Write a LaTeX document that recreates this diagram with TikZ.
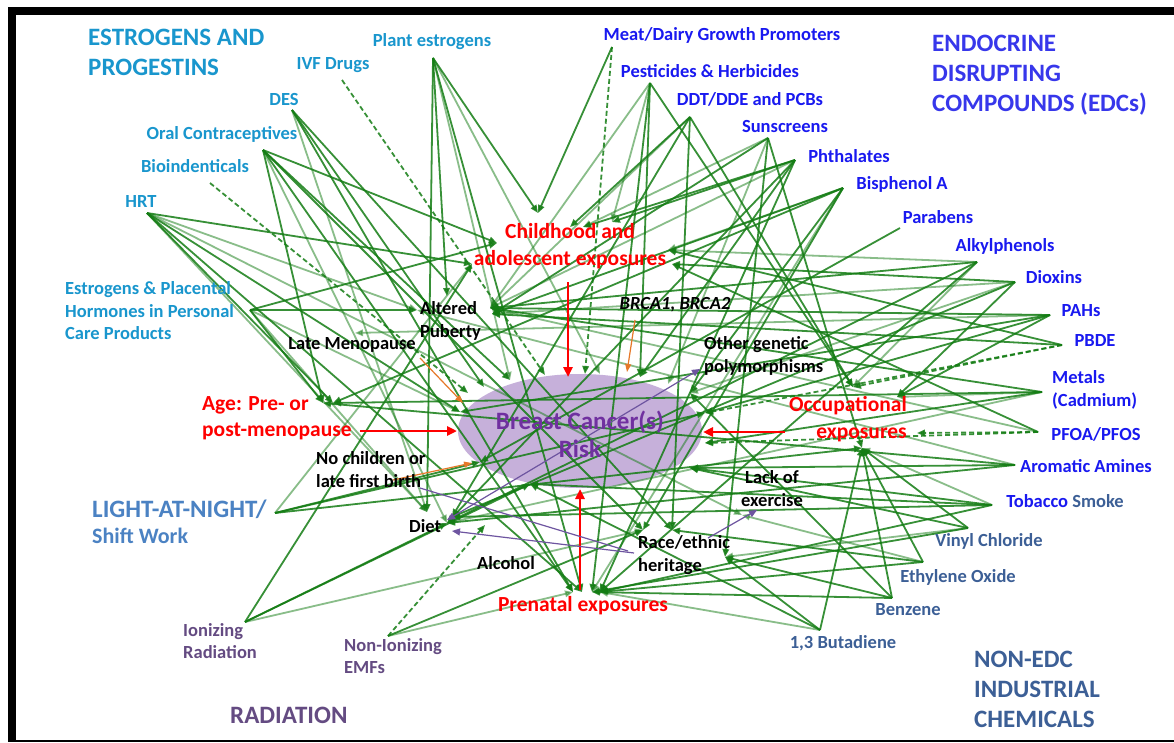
\documentclass[tikz,border=0pt]{standalone}
\usepackage{fontspec}
\setmainfont{Carlito}
\usetikzlibrary{arrows.meta,shapes.geometric}
\definecolor{estro}{RGB}{25,150,205}
\definecolor{edc}{RGB}{25,25,240}
\definecolor{edct}{RGB}{55,55,235}
\definecolor{nonedc}{RGB}{60,95,150}
\definecolor{lanc}{RGB}{75,130,195}
\definecolor{radc}{RGB}{100,75,130}
\definecolor{redc}{RGB}{255,0,0}
\definecolor{bcp}{RGB}{112,48,160}
\definecolor{bcfill}{RGB}{198,176,218}
\definecolor{grn}{RGB}{20,125,20}
\definecolor{purl}{RGB}{110,85,160}
\definecolor{orng}{RGB}{230,120,40}
\tikzset{
  gl/.style={draw=grn, line width=1.8pt, opacity=0.85, -{Triangle[length=8pt,width=6.5pt]}},
  gll/.style={gl, opacity=0.5},
  gd/.style={gl, dash pattern=on 5pt off 3pt},
  redarr/.style={draw=redc, line width=2.6pt, -{Triangle[length=10pt,width=9pt]}},
  orarr/.style={draw=orng, line width=1.2pt, -{Triangle[length=8pt,width=6pt]}},
  purarr/.style={draw=purl, line width=1.2pt, -{Triangle[length=8pt,width=7pt]}},
  lbl/.style={inner sep=0pt, font=\bfseries\fontsize{18.5}{22.5}\selectfont},
  clbl/.style={inner sep=0pt, font=\bfseries\fontsize{18.5}{23}\selectfont, text=black},
  rlbl/.style={inner sep=0pt, font=\bfseries\fontsize{21.5}{26.5}\selectfont, text=redc},
  ttl/.style={inner sep=0pt, font=\bfseries\fontsize{25}{30}\selectfont, anchor=west, align=left},
}
\newcommand\gedge[3][gl]{\draw[#1] (#2) -- (#3);}
\begin{document}
\begin{tikzpicture}[x=1pt,y=-1pt]
\useasboundingbox (0,0) rectangle (1174,743);
\fill[white] (0,0) rectangle (1174,743);
% frame
\fill[black] (8,7) rectangle (1174,15);
\fill[black] (8,7) rectangle (16,742);
\fill[black] (8,739.5) rectangle (1174,742);

% ellipse
\node[ellipse, fill=bcfill, minimum width=244pt, minimum height=114pt, inner sep=0pt] (bc) at (580,431) {};

% source anchors
\coordinate (sPlant) at (433,58);
\coordinate (sIVF) at (342,80);
\coordinate (sDES) at (292,110);
\coordinate (sOC) at (263,150);
\coordinate (sBio) at (210,183);
\coordinate (sHRT) at (147,213);
\coordinate (sEPH) at (250,310);
\coordinate (sMeat) at (612,47);
\coordinate (sPest) at (650,83);
\coordinate (sDDT) at (690,117);
\coordinate (sSun) at (768,138);
\coordinate (sPhth) at (795,160);
\coordinate (sBPA) at (843,188);
\coordinate (sPara) at (900,228);
\coordinate (sAlk) at (977,262);
\coordinate (sDiox) at (1015,282);
\coordinate (sPAH) at (1050,315);
\coordinate (sPBDE) at (1062,345);
\coordinate (sMet) at (1042,392);
\coordinate (sPFOA) at (1038,432);
\coordinate (sArom) at (1015,465);
\coordinate (sTob) at (992,505);
\coordinate (sVin) at (968,528);
\coordinate (sEth) at (923,562);
\coordinate (sBenz) at (892,598);
\coordinate (sBut) at (820,630);
\coordinate (sLAN) at (275,513);
\coordinate (sIon) at (245,622);
\coordinate (sNon) at (388,636);

% target points
\coordinate (tCh1) at (538,213);
\coordinate (tCh2) at (570,227);
\coordinate (tCh3) at (583,227);
\coordinate (tCh4) at (612,222);
\coordinate (tChL) at (497,243);
\coordinate (tChL2) at (472,264);
\coordinate (tChR) at (668,250);
\coordinate (tChR2) at (672,264);
\coordinate (tAPL) at (417,310);
\coordinate (tAPR) at (490,308);
\coordinate (tAPR2) at (492,314);
\coordinate (tAPT) at (447,296);
\coordinate (tLM) at (355,333);
\coordinate (tAge1) at (323,403);
\coordinate (tAge2) at (333,403);
\coordinate (tE0) at (468,393);
\coordinate (tE1) at (484,387);
\coordinate (tE2) at (510,380);
\coordinate (tE3) at (545,375);
\coordinate (tE35) at (585,374);
\coordinate (tE4) at (600,374);
\coordinate (tE5) at (640,377);
\coordinate (tE6) at (668,384);
\coordinate (tE7) at (690,393);
\coordinate (tEL) at (460,412);
\coordinate (tER1) at (705,413);
\coordinate (tER2) at (705,443);
\coordinate (tER3) at (690,468);
\coordinate (tEBL) at (480,462);
\coordinate (tEB) at (530,484);
\coordinate (tDietT) at (427,512);
\coordinate (tDietR) at (447,523);
\coordinate (tDietR2) at (452,517);
\coordinate (tPre1) at (573,592);
\coordinate (tPre2) at (582,592);
\coordinate (tPre3) at (592,592);
\coordinate (tPre4) at (600,592);
\coordinate (tOcc1) at (862,448);
\coordinate (tOcc2) at (897,397);
\coordinate (tOcc3) at (853,387);
\coordinate (tOcc4) at (917,433);
\coordinate (tRace1) at (643,530);
\coordinate (tRace2) at (672,530);
\coordinate (tRace3) at (725,557);
\coordinate (tLack) at (742,515);
\coordinate (tNonD) at (485,525);

% ---------- green connectors ----------
% estrogens & progestins
\gedge{sPlant}{tCh1}
\gedge{sPlant}{tAPT}
\gedge[gll]{sPlant}{tE4}
\gedge{sPlant}{tPre2}
\gedge{sPlant}{tDietT}
\gedge[gll]{sPlant}{tE2}
\gedge[gd]{sIVF}{tE3}
\gedge{sDES}{tPre1}
\gedge{sDES}{tE1}
\gedge[gll]{sDES}{tDietT}
\gedge{sDES}{tRace2}
\gedge{sOC}{tAge1}
\gedge{sOC}{tChL}
\gedge{sOC}{tE2}
\gedge{sOC}{tPre1}
\gedge[gll]{sOC}{tDietR}
\gedge{sOC}{tRace1}
\gedge[gd]{sBio}{tE0}
\gedge{sHRT}{tChL2}
\gedge{sHRT}{tAge2}
\gedge{sHRT}{tEL}
\gedge{sHRT}{tPre2}
\gedge[gll]{sHRT}{tAPL}
\gedge[gll]{sHRT}{tDietT}
\gedge[gll]{sHRT}{tLack}
\gedge{sEPH}{tAPL}
\gedge{sEPH}{tChL}
\gedge{sEPH}{tAge1}
\gedge[gll]{sEPH}{tEL}
\gedge[gll]{sEPH}{tDietT}
% EDCs
\gedge{sMeat}{tCh1}
\gedge[gd]{sMeat}{tE35}
\gedge{sPest}{tPre3}
\gedge{sPest}{tOcc3}
\gedge[gll]{sPest}{tCh4}
\gedge{sPest}{tE5}
\gedge[gll]{sPest}{tAPR}
\gedge{sDDT}{tCh2}
\gedge{sDDT}{tDietR2}
\gedge{sDDT}{tRace2}
\gedge{sDDT}{tOcc3}
\gedge[gll]{sDDT}{tAPR}
\gedge{sSun}{tRace3}
\gedge{sSun}{tOcc1}
\gedge[gll]{sSun}{tE6}
\gedge[gll]{sSun}{tCh3}
\gedge{sSun}{tAPR2}
\gedge{sPhth}{tCh3}
\gedge{sPhth}{tCh4}
\gedge{sPhth}{tE5}
\gedge{sPhth}{tPre4}
\gedge[gll]{sPhth}{tAPR}
\gedge{sPhth}{tDietR}
\gedge{sBPA}{tRace1}
\gedge{sBPA}{tE7}
\gedge{sBPA}{tAPR2}
\gedge[gll]{sBPA}{tChR}
\gedge{sBPA}{tAge2}
\gedge[gll]{sBPA}{tPre3}
\gedge{sPara}{tEBL}
\gedge{sAlk}{tPre4}
\gedge{sAlk}{tDietR}
\gedge[gll]{sAlk}{tChR}
\gedge{sAlk}{tAPR}
\gedge[gll]{sAlk}{tOcc3}
\gedge{sDiox}{tOcc2}
\gedge{sDiox}{tDietR2}
\gedge[gll]{sDiox}{tAPR2}
\gedge{sDiox}{tChR2}
\gedge[gll]{sDiox}{tE7}
\gedge{sPAH}{tAPR}
\gedge{sPAH}{tER1}
\gedge{sPAH}{tOcc2}
\gedge[gll]{sPAH}{tLM}
\gedge{sPAH}{tEL}
\gedge[gd]{sPBDE}{tER1}
\gedge[gd]{sPBDE}{tOcc3}
\gedge{sPBDE}{tChR}
\gedge{sPBDE}{tAPR2}
\gedge{sMet}{tAPR}
\gedge{sMet}{tER2}
\gedge[gll]{sMet}{tDietR}
\gedge{sMet}{tAge2}
\gedge[gll]{sMet}{tOcc2}
\gedge[gd]{sPFOA}{tOcc4}
\gedge[gd]{sPFOA}{tER2}
\gedge{sPFOA}{tChR2}
\gedge[gll]{sPFOA}{tAPR}
\gedge{sArom}{tER3}
\gedge{sArom}{tDietR}
\gedge[gll]{sArom}{tAPL}
\gedge{sArom}{tAge1}
\gedge{sTob}{tER3}
\gedge{sTob}{tPre4}
\gedge{sTob}{tDietR2}
\gedge[gll]{sTob}{tOcc1}
\gedge{sTob}{tEB}
% non-EDC industrial chemicals
\gedge{sVin}{tER3}
\gedge{sVin}{tOcc1}
\gedge[gll]{sVin}{tRace3}
\gedge{sVin}{tPre3}
\gedge{sEth}{tOcc1}
\gedge{sEth}{tPre4}
\gedge[gll]{sEth}{tLack}
\gedge{sEth}{tRace2}
\gedge{sBenz}{tRace3}
\gedge{sBenz}{tOcc1}
\gedge{sBenz}{tPre3}
\gedge{sBenz}{tE7}
\gedge{sBut}{tOcc1}
\gedge{sBut}{tRace3}
\gedge[gll]{sBut}{tPre4}
\gedge{sBut}{tEB}
% light at night, radiation
\gedge{sLAN}{tEBL}
\gedge{sLAN}{tOcc1}
\gedge[gll]{sLAN}{tChL2}
\gedge{sLAN}{tER1}
\gedge{sIon}{tChL2}
\gedge{sIon}{tDietR}
\gedge{sIon}{tEB}
\gedge[gll]{sIon}{tRace1}
\gedge[gd]{sNon}{tNonD}
\gedge{sNon}{tRace1}
\gedge[gll]{sNon}{tPre1}

% ---------- red, orange, purple connectors ----------
\coordinate (cChB) at (568,282);
\coordinate (cChE) at (568,377);
\coordinate (cAgeR) at (360,431);
\coordinate (cAgeE) at (457,431);
\coordinate (cOccL) at (785,432);
\coordinate (cOccE) at (703,432);
\coordinate (cPreT) at (580,590);
\coordinate (cPreE) at (580,489);
\draw[redarr] (cChB) -- (cChE);
\draw[redarr] (cAgeR) -- (cAgeE);
\draw[redarr] (cOccL) -- (cOccE);
\draw[redarr] (cPreT) -- (cPreE);

\coordinate (oLM) at (420,358);
\coordinate (oLME) at (463,403);
\coordinate (oBR) at (635,320);
\coordinate (oBRE) at (627,372);
\coordinate (oNC) at (393,480);
\coordinate (oNCE) at (472,463);
\draw[orarr] (oLM) -- (oLME);
\draw[orarr] (oBR) -- (oBRE);
\draw[orarr] (oNC) -- (oNCE);

\coordinate (pDiet) at (447,520);
\coordinate (pOGP) at (700,369);
\coordinate (pRace) at (634,553);
\coordinate (pDiet2) at (452,531);
\coordinate (pRace2) at (628,551);
\coordinate (pNC) at (420,488);
\coordinate (pRace3) at (708,538);
\coordinate (pLack) at (757,510);
\draw[purarr, {Triangle[length=8pt,width=7pt]}-{Triangle[length=8pt,width=7pt]}] (pDiet) -- (pOGP);
\draw[purarr] (pRace) -- (pDiet2);
\draw[draw=purl, line width=1.2pt] (pRace2) -- (pNC);
\draw[purarr] (pRace3) -- (pLack);

% ---------- labels ----------
\node[inner sep=0pt, font=\bfseries\fontsize{25}{28}\selectfont, text=bcp, align=center] (bct) at (580,434) {Breast Cancer(s)\\Risk};

% estrogens & progestins
\node[ttl, text=estro] (tEst) at (88,52) {ESTROGENS AND\\PROGESTINS};
\node[lbl, text=estro] (nIVF) at (333,65) {IVF Drugs};
\node[lbl, text=estro] (nPlant) at (432,42) {Plant estrogens};
\node[lbl, text=estro] (nDES) at (284,99) {DES};
\node[lbl, text=estro] (nOC) at (222,134) {Oral Contraceptives};
\node[lbl, text=estro] (nBio) at (195,166) {Bioindenticals};
\node[lbl, text=estro] (nHRT) at (141,202) {HRT};
\node[lbl, text=estro, anchor=west, align=left] (nEPH) at (65,311) {Estrogens \& Placental\\Hormones in Personal\\Care Products};

% EDCs
\node[ttl, text=edct] (tEDC) at (932,75) {ENDOCRINE\\DISRUPTING\\COMPOUNDS (EDCs)};
\node[lbl, text=edc] (nMeat) at (722,35) {Meat/Dairy Growth Promoters};
\node[lbl, text=edc] (nPest) at (710,71) {Pesticides \& Herbicides};
\node[lbl, text=edc] (nDDT) at (750,99) {DDT/DDE and PCBs};
\node[lbl, text=edc] (nSun) at (785,127) {Sunscreens};
\node[lbl, text=edc] (nPhth) at (849,156) {Phthalates};
\node[lbl, text=edc] (nBPA) at (902,184) {Bisphenol A};
\node[lbl, text=edc] (nPara) at (938,217) {Parabens};
\node[lbl, text=edc] (nAlk) at (1005,246) {Alkylphenols};
\node[lbl, text=edc] (nDiox) at (1054,277) {Dioxins};
\node[lbl, text=edc] (nPAH) at (1081,311) {PAHs};
\node[lbl, text=edc] (nPBDE) at (1095,341) {PBDE};
\node[lbl, text=edc, anchor=west, align=left] (nMet) at (1052,390) {Metals\\(Cadmium)};
\node[lbl, text=edc] (nPFOA) at (1096,434) {PFOA/PFOS};
\node[lbl, text=edc] (nArom) at (1086,466) {Aromatic Amines};
\node[lbl, text=edc] (nTob) at (1065,501) {Tobacco \textcolor{nonedc}{Smoke}};

% non-EDC
\node[lbl, text=nonedc] (nVin) at (989,541) {Vinyl Chloride};
\node[lbl, text=nonedc] (nEth) at (958,577) {Ethylene Oxide};
\node[lbl, text=nonedc] (nBenz) at (908,610) {Benzene};
\node[lbl, text=nonedc] (nBut) at (843,643) {1,3 Butadiene};
\node[ttl, text=nonedc] (tNon) at (974,689) {NON-EDC\\INDUSTRIAL\\CHEMICALS};

% light at night
\node[inner sep=0pt, font=\bfseries\fontsize{25}{28}\selectfont, text=lanc, anchor=west] (nLAN) at (92,509) {LIGHT-AT-NIGHT/};
\node[inner sep=0pt, font=\bfseries\fontsize{22}{25}\selectfont, text=lanc, anchor=west] (nShift) at (92,536) {Shift Work};

% radiation
\node[lbl, text=radc, anchor=west, align=left] (nIon) at (183,641) {Ionizing\\Radiation};
\node[lbl, text=radc, anchor=west, align=left] (nNon) at (344,656) {Non-Ionizing\\EMFs};
\node[inner sep=0pt, font=\bfseries\fontsize{25}{28}\selectfont, text=radc, anchor=west] (tRad) at (230,715) {RADIATION};

% central factors
\node[clbl, anchor=west, align=left] (nAP) at (420,321) {Altered\\Puberty};
\node[inner sep=0pt, font=\bfseries\itshape\fontsize{18.5}{22}\selectfont] (nBRCA) at (675,305) {BRCA1, BRCA2};
\node[clbl] (nLM) at (352,345) {Late Menopause};
\node[clbl, anchor=west, align=left] (nOGP) at (704,356) {Other genetic\\polymorphisms};
\node[rlbl, anchor=west, align=left] (nAge) at (202,418) {Age: Pre- or\\post-menopause};
\node[rlbl, align=center] (nChild) at (570,246) {Childhood and\\adolescent exposures};
\node[rlbl, anchor=east, align=right] (nOcc) at (907,419) {Occupational\\exposures};
\node[clbl, anchor=west, align=left] (nNC) at (316,470) {No children or\\late first birth};
\node[clbl] (nDiet) at (425,526) {Diet};
\node[clbl] (nAlc) at (506,563) {Alcohol};
\node[clbl, anchor=west, align=left] (nRace) at (638,555) {Race/ethnic\\heritage};
\node[clbl, align=center] (nLack) at (772,489) {Lack of\\exercise};
\node[rlbl] (nPre) at (583,606) {Prenatal exposures};
\end{tikzpicture}
\end{document}
